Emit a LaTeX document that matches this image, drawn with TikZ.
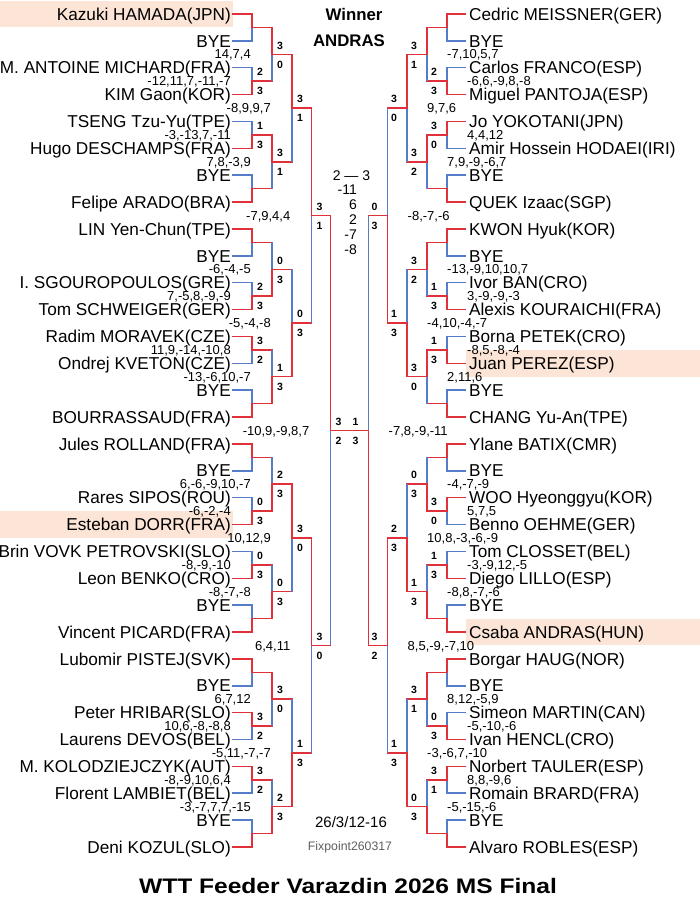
\documentclass[tikz,border=0pt]{standalone}
\usepackage{fontspec}
\setmainfont{Liberation Sans}
\usetikzlibrary{calc}
\definecolor{wred}{RGB}{224,48,58}
\definecolor{wblue}{RGB}{84,124,200}
\definecolor{peach}{RGB}{252,228,214}
\definecolor{fxgray}{RGB}{95,95,95}
\tikzset{
 nm/.style={font=\fontsize{17.2}{18}\selectfont,inner sep=0pt,text height=12.4pt,text depth=0pt},
 sc/.style={font=\fontsize{10.5}{11}\selectfont\bfseries,inner sep=0pt,text height=7.5pt,text depth=0pt},
 gs/.style={font=\fontsize{13}{14}\selectfont,inner sep=0pt,text height=9.3pt,text depth=0pt},
 fsc/.style={font=\fontsize{14}{15}\selectfont,inner sep=0pt,text height=10pt,text depth=0pt},
 ln/.style={line width=1.5pt},
 hl/.style={line width=1.5pt,line cap=rect},
}
\def\firstround{1}
\newcommand\mtside[4]{%
  \draw[hl,draw=#3] (#1) -- (#1 -| #2x);
  \draw[ln,draw=#4] (#1 -| #2x) -- (#2);
}
\newcommand\mtlab[7]{%
  \if\relax\detokenize{#5}\relax\else
    \node[sc] (#1s1) at ($(#1)+(#2,-9)$) {#5};
    \node[sc] (#1s2) at ($(#1)+(#2,10)$) {#6};
    \node[gs,anchor=#4] (#1g) at ($(#1)+(#3,0)$) {#7};
  \fi
}
% #1 side, #2 name, #3 top entrant, #4 bottom entrant, #5 x, #6 top score, #7 bottom score, #8 winner, #9 games
\newcommand\mt[9]{%
  \coordinate (#2x) at (#5,0);
  \coordinate (#2) at ($(#3 -| #2x)!0.5!(#4 -| #2x)$);
  \ifnum#8=1\relax
    \def\mtCT{wred}\def\mtCB{wblue}%
  \else
    \def\mtCT{wblue}\def\mtCB{wred}%
  \fi
  \ifnum\firstround=1\relax
    \let\mtHT\mtCT\let\mtHB\mtCB
  \else
    \def\mtHT{wred}\def\mtHB{wred}%
  \fi
  \ifnum#8=1\relax
    \mtside{#4}{#2}{\mtHB}{\mtCB}\mtside{#3}{#2}{\mtHT}{\mtCT}%
  \else
    \mtside{#3}{#2}{\mtHT}{\mtCT}\mtside{#4}{#2}{\mtHB}{\mtCB}%
  \fi
  \ifx L#1\relax
    \mtlab{#2}{8}{-21}{east}{#6}{#7}{#9}%
  \else
    \mtlab{#2}{-13}{20}{west}{#6}{#7}{#9}%
  \fi
}
\begin{document}
\begin{tikzpicture}[x=1pt,y=-1pt]
\useasboundingbox (0,0) rectangle (700,915);
\fill[white] (0,0) rectangle (700,915);
% highlights
\fill[peach] (0,0.6) rectangle (233,27.4);
\fill[peach] (0,511.1) rectangle (233,537.9);
\fill[peach] (466,349.9) rectangle (700,376.7);
\fill[peach] (466,618.6) rectangle (700,645.4);
% players
\foreach \n [count=\i] in {Kazuki HAMADA(JPN), BYE, M. ANTOINE MICHARD(FRA), KIM Gaon(KOR), TSENG Tzu-Yu(TPE), Hugo DESCHAMPS(FRA), BYE, Felipe ARADO(BRA), LIN Yen-Chun(TPE), BYE, I. SGOUROPOULOS(GRE), Tom SCHWEIGER(GER), Radim MORAVEK(CZE), Ondrej KVETON(CZE), BYE, BOURRASSAUD(FRA), Jules ROLLAND(FRA), BYE, Rares SIPOS(ROU), Esteban DORR(FRA), Brin VOVK PETROVSKI(SLO), Leon BENKO(CRO), BYE, Vincent PICARD(FRA), Lubomir PISTEJ(SVK), BYE, Peter HRIBAR(SLO), Laurens DEVOS(BEL), M. KOLODZIEJCZYK(AUT), Florent LAMBIET(BEL), BYE, Deni KOZUL(SLO)}{
  \node[nm,anchor=east] (L\i) at (231,{14+(\i-1)*26.87}) {\n};
  \coordinate (LS\i) at (233,{14+(\i-1)*26.87});
}
\foreach \n [count=\i] in {Cedric MEISSNER(GER), BYE, Carlos FRANCO(ESP), Miguel PANTOJA(ESP), Jo YOKOTANI(JPN), Amir Hossein HODAEI(IRI), BYE, QUEK Izaac(SGP), KWON Hyuk(KOR), BYE, Ivor BAN(CRO), Alexis KOURAICHI(FRA), Borna PETEK(CRO), Juan PEREZ(ESP), BYE, CHANG Yu-An(TPE), Ylane BATIX(CMR), BYE, WOO Hyeonggyu(KOR), Benno OEHME(GER), Tom CLOSSET(BEL), Diego LILLO(ESP), BYE, Csaba ANDRAS(HUN), Borgar HAUG(NOR), BYE, Simeon MARTIN(CAN), Ivan HENCL(CRO), Norbert TAULER(ESP), Romain BRARD(FRA), BYE, Alvaro ROBLES(ESP)}{
  \node[nm,anchor=west] (R\i) at (469,{14+(\i-1)*26.87}) {\n};
  \coordinate (RS\i) at (465,{14+(\i-1)*26.87});
}
% ---------- left side ----------
\def\firstround{1}
\mt{L}{La1}{LS1}{LS2}{252}{}{}{1}{}
\mt{L}{La2}{LS3}{LS4}{252}{2}{3}{2}{-12,11,7,-11,-7}
\mt{L}{La3}{LS5}{LS6}{252}{1}{3}{2}{-3,-13,7,-11}
\mt{L}{La4}{LS7}{LS8}{252}{}{}{2}{}
\mt{L}{La5}{LS9}{LS10}{252}{}{}{1}{}
\mt{L}{La6}{LS11}{LS12}{252}{2}{3}{2}{7,-5,8,-9,-9}
\mt{L}{La7}{LS13}{LS14}{252}{3}{2}{1}{11,9,-14,-10,8}
\mt{L}{La8}{LS15}{LS16}{252}{}{}{2}{}
\mt{L}{La9}{LS17}{LS18}{252}{}{}{1}{}
\mt{L}{La10}{LS19}{LS20}{252}{0}{3}{2}{-6,-2,-4}
\mt{L}{La11}{LS21}{LS22}{252}{0}{3}{2}{-8,-9,-10}
\mt{L}{La12}{LS23}{LS24}{252}{}{}{2}{}
\mt{L}{La13}{LS25}{LS26}{252}{}{}{1}{}
\mt{L}{La14}{LS27}{LS28}{252}{3}{2}{1}{10,6,-8,-8,8}
\mt{L}{La15}{LS29}{LS30}{252}{3}{2}{1}{-8,-9,10,6,4}
\mt{L}{La16}{LS31}{LS32}{252}{}{}{2}{}
\def\firstround{0}
\mt{L}{Lb1}{La1}{La2}{272}{3}{0}{1}{14,7,4}
\mt{L}{Lb2}{La3}{La4}{272}{3}{1}{1}{7,8,-3,9}
\mt{L}{Lb3}{La5}{La6}{272}{0}{3}{2}{-6,-4,-5}
\mt{L}{Lb4}{La7}{La8}{272}{1}{3}{2}{-13,-6,10,-7}
\mt{L}{Lb5}{La9}{La10}{272}{2}{3}{2}{6,-6,-9,10,-7}
\mt{L}{Lb6}{La11}{La12}{272}{0}{3}{2}{-8,-7,-8}
\mt{L}{Lb7}{La13}{La14}{272}{3}{0}{1}{6,7,12}
\mt{L}{Lb8}{La15}{La16}{272}{2}{3}{2}{-3,-7,7,7,-15}
\mt{L}{Lc1}{Lb1}{Lb2}{292}{3}{1}{1}{-8,9,9,7}
\mt{L}{Lc2}{Lb3}{Lb4}{292}{0}{3}{2}{-5,-4,-8}
\mt{L}{Lc3}{Lb5}{Lb6}{292}{3}{0}{1}{10,12,9}
\mt{L}{Lc4}{Lb7}{Lb8}{292}{1}{3}{2}{-5,11,-7,-7}
\mt{L}{Ld1}{Lc1}{Lc2}{311.5}{3}{1}{1}{-7,9,4,4}
\mt{L}{Ld2}{Lc3}{Lc4}{311.5}{3}{0}{1}{6,4,11}
\mt{L}{Le}{Ld1}{Ld2}{330.5}{3}{2}{1}{-10,9,-9,8,7}
% ---------- right side ----------
\def\firstround{1}
\mt{R}{Ra1}{RS1}{RS2}{447}{}{}{1}{}
\mt{R}{Ra2}{RS3}{RS4}{447}{2}{3}{2}{-6,6,-9,8,-8}
\mt{R}{Ra3}{RS5}{RS6}{447}{3}{0}{1}{4,4,12}
\mt{R}{Ra4}{RS7}{RS8}{447}{}{}{2}{}
\mt{R}{Ra5}{RS9}{RS10}{447}{}{}{1}{}
\mt{R}{Ra6}{RS11}{RS12}{447}{1}{3}{2}{3,-9,-9,-3}
\mt{R}{Ra7}{RS13}{RS14}{447}{1}{3}{2}{-8,5,-8,-4}
\mt{R}{Ra8}{RS15}{RS16}{447}{}{}{2}{}
\mt{R}{Ra9}{RS17}{RS18}{447}{}{}{1}{}
\mt{R}{Ra10}{RS19}{RS20}{447}{3}{0}{1}{5,7,5}
\mt{R}{Ra11}{RS21}{RS22}{447}{1}{3}{2}{-3,-9,12,-5}
\mt{R}{Ra12}{RS23}{RS24}{447}{}{}{2}{}
\mt{R}{Ra13}{RS25}{RS26}{447}{}{}{1}{}
\mt{R}{Ra14}{RS27}{RS28}{447}{0}{3}{2}{-5,-10,-6}
\mt{R}{Ra15}{RS29}{RS30}{447}{3}{1}{1}{8,8,-9,6}
\mt{R}{Ra16}{RS31}{RS32}{447}{}{}{2}{}
\def\firstround{0}
\mt{R}{Rb1}{Ra1}{Ra2}{427}{3}{1}{1}{-7,10,5,7}
\mt{R}{Rb2}{Ra3}{Ra4}{427}{3}{2}{1}{7,9,-9,-6,7}
\mt{R}{Rb3}{Ra5}{Ra6}{427}{3}{2}{1}{-13,-9,10,10,7}
\mt{R}{Rb4}{Ra7}{Ra8}{427}{3}{0}{1}{2,11,6}
\mt{R}{Rb5}{Ra9}{Ra10}{427}{0}{3}{2}{-4,-7,-9}
\mt{R}{Rb6}{Ra11}{Ra12}{427}{1}{3}{2}{-8,8,-7,-6}
\mt{R}{Rb7}{Ra13}{Ra14}{427}{3}{1}{1}{8,12,-5,9}
\mt{R}{Rb8}{Ra15}{Ra16}{427}{0}{3}{2}{-5,-15,-6}
\mt{R}{Rc1}{Rb1}{Rb2}{407}{3}{0}{1}{9,7,6}
\mt{R}{Rc2}{Rb3}{Rb4}{407}{1}{3}{2}{-4,10,-4,-7}
\mt{R}{Rc3}{Rb5}{Rb6}{407}{2}{3}{2}{10,8,-3,-6,-9}
\mt{R}{Rc4}{Rb7}{Rb8}{407}{1}{3}{2}{-3,-6,7,-10}
\mt{R}{Rd1}{Rc1}{Rc2}{387.5}{0}{3}{2}{-8,-7,-6}
\mt{R}{Rd2}{Rc3}{Rc4}{387.5}{3}{2}{1}{8,5,-9,-7,10}
\mt{R}{Re}{Rd1}{Rd2}{368.5}{1}{3}{2}{-7,8,-9,-11}
% final
\draw[hl,draw=wred] (Le) -- (Re);
% center texts
\node[font=\bfseries\fontsize{16.8}{18}\selectfont,inner sep=0pt] (winner) at (354,14) {Winner};
\node[font=\bfseries\fontsize{16.8}{18}\selectfont,inner sep=0pt] (champ) at (349,41) {ANDRAS};
\node[fsc] (fscore) at (351.5,175) {2 — 3};
\node[fsc,anchor=east] (f1) at (357,189) {-11};
\node[fsc,anchor=east] (f2) at (357,204) {6};
\node[fsc,anchor=east] (f3) at (357,219) {2};
\node[fsc,anchor=east] (f4) at (357,234) {-7};
\node[fsc,anchor=east] (f5) at (357,249) {-8};
\node[font=\fontsize{15}{16}\selectfont,inner sep=0pt] (date) at (351,822) {26/3/12-16};
\node[font=\fontsize{12.3}{13}\selectfont,inner sep=0pt,text=fxgray] (fix) at (350,847) {Fixpoint260317};
\node[font=\bfseries\fontsize{21}{24}\selectfont,inner sep=0pt] (title) at (348,886) {\scalebox{1.17}[1]{WTT Feeder Varazdin 2026 MS Final}};
\end{tikzpicture}
\end{document}
